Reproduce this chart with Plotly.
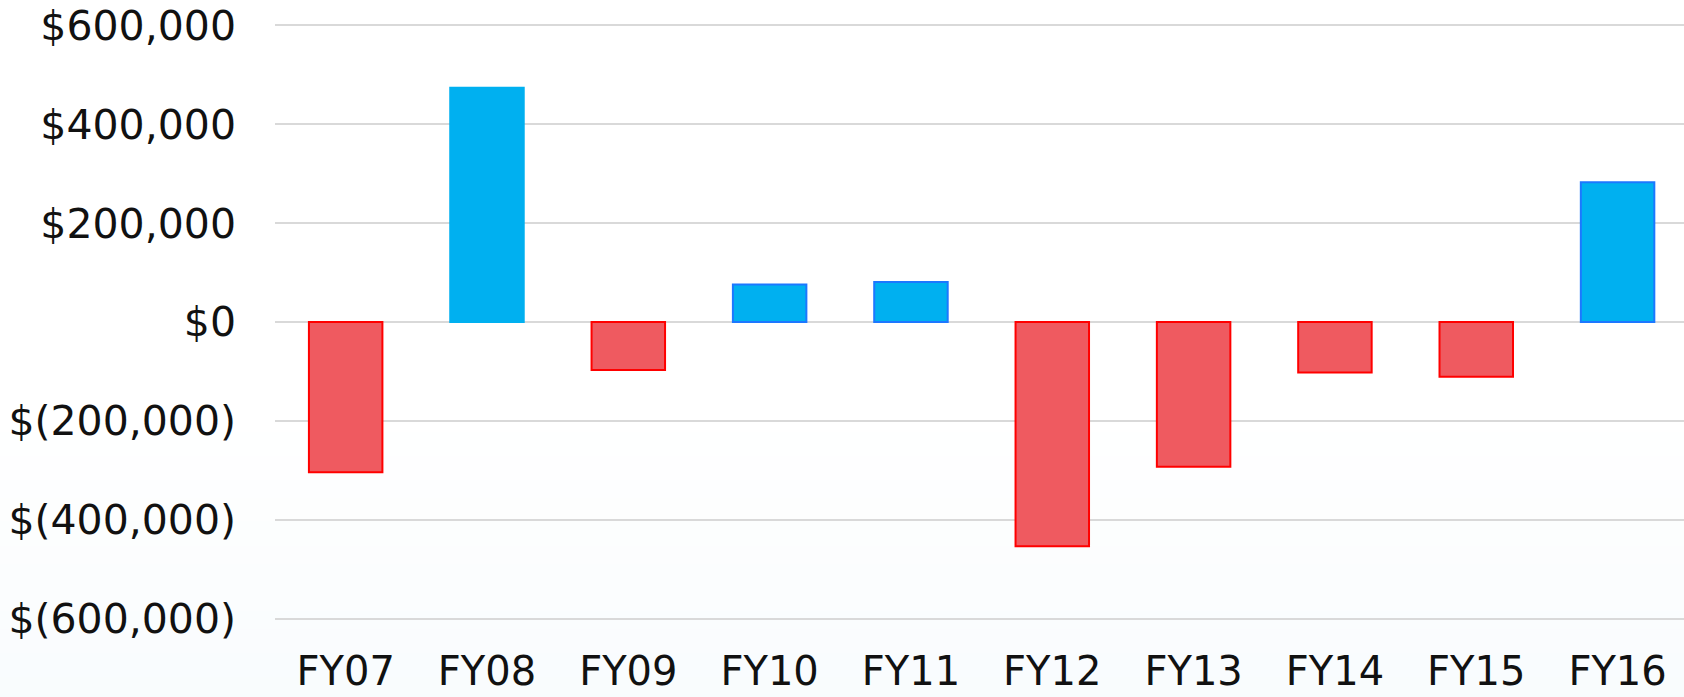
import plotly.graph_objects as go

categories = ["FY07", "FY08", "FY09", "FY10", "FY11", "FY12", "FY13", "FY14", "FY15", "FY16"]
values = [-304000, 474000, -97000, 76000, 81000, -454000, -293000, -102000, -111000, 283000]
tick_vals = [600000, 400000, 200000, 0, -200000, -400000, -600000]
tick_text = ["$600,000", "$400,000", "$200,000", "$0", "$(200,000)", "$(400,000)", "$(600,000)"]

fill = ["#00B0F0" if v >= 0 else "#EF5A60" for v in values]
edge = ["#1C78FF" if v >= 0 else "#FF0000" for v in values]
edge[1] = "#00B0F0"  # FY08 drawn without a visible outline

fig = go.Figure(go.Bar(
    x=categories, y=values,
    marker=dict(color=fill, line=dict(color=edge, width=2)),
))

# subtle white-to-pale-blue background gradient (paper coordinates)
shapes = []
n = 60
for i in range(n):
    t = i / (n - 1)
    r = round(255 - 8 * t)
    g = round(255 - 4 * t)
    b = round(255 - 2 * t)
    shapes.append(dict(type="rect", xref="paper", yref="paper",
                       x0=-1, x1=2, y0=(0.6 * (1 - (i + 1) / n)) - 0.25, y1=(0.6 * (1 - i / n)) - 0.25 + 0.005,
                       fillcolor=f"rgb({r},{g},{b})", line=dict(width=0), layer="below"))

fig.update_layout(
    width=1684, height=697,
    margin=dict(l=275, r=0, t=24, b=77, autoexpand=False),
    paper_bgcolor="rgba(255,255,255,1)", plot_bgcolor="rgba(0,0,0,0)",
    bargap=0.48, showlegend=False,
    font=dict(family="DejaVu Sans, Verdana, sans-serif", size=41, color="#111111"),
    shapes=shapes,
)
fig.update_xaxes(range=[-0.5, 9.47], showgrid=False, showline=False, ticks="",
                 tickfont=dict(size=40),
                 ticklabelstandoff=24, automargin=False, ticklabeloverflow="allow")
fig.update_yaxes(range=[-603000, 603000], tickvals=tick_vals, ticktext=tick_text,
                 showgrid=True, gridcolor="#D9D9D9", gridwidth=2,
                 zeroline=True, zerolinecolor="#D9D9D9", zerolinewidth=2,
                 ticks="", ticklabelstandoff=38, automargin=False, ticklabeloverflow="allow")

fig.write_html("out.html", config={"displayModeBar": False},
               post_script="document.body.style.margin='0';document.body.style.overflow='hidden';")
